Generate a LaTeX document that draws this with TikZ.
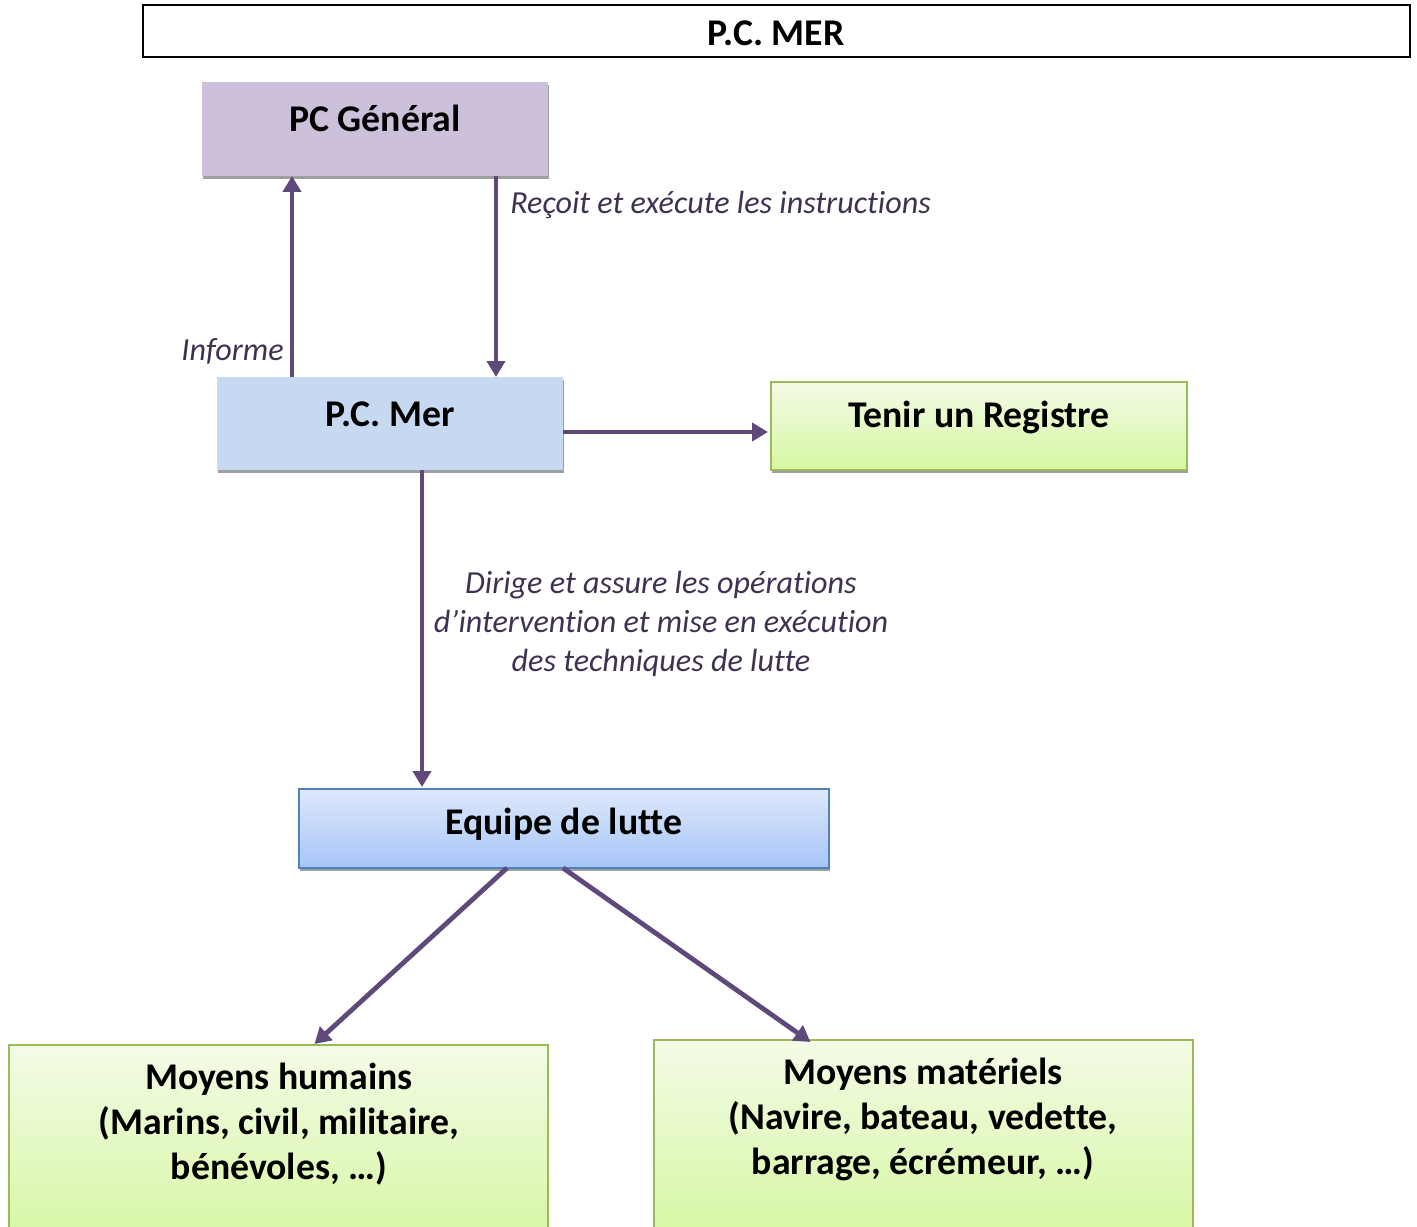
\documentclass[tikz,border=0pt]{standalone}
\usepackage{fontspec}
\setmainfont{Carlito}[Ligatures=NoCommon]
\usetikzlibrary{calc,arrows.meta,shadows}
\definecolor{arrowc}{HTML}{5F497A}
\definecolor{labc}{HTML}{3F3151}
\definecolor{pcgfill}{HTML}{CCC0DA}
\definecolor{pcmfill}{HTML}{C6D9F1}
\definecolor{greentop}{HTML}{F3FBE6}
\definecolor{greenbot}{HTML}{D6F7A2}
\definecolor{greenborder}{HTML}{9BBB59}
\definecolor{bluetop}{HTML}{DEE8FB}
\definecolor{bluebot}{HTML}{A6C5F7}
\definecolor{blueborder}{HTML}{4F81BD}
\begin{document}
\begin{tikzpicture}[x=0.75pt,y=-0.75pt,
  box/.style={rectangle, anchor=north west, inner sep=0pt, outer sep=0pt},
  shad/.style={drop shadow={shadow xshift=0.75pt, shadow yshift=-2.25pt, fill=gray!75, opacity=1}},
  greenbox/.style={box, shad, draw=greenborder, line width=1.5pt, top color=greentop, bottom color=greenbot},
  bluebox/.style={box, shad, draw=blueborder, line width=1.2pt, top color=bluetop, bottom color=bluebot},
  boxtxt/.style={font=\bfseries\fontsize{28.3}{33.75}\selectfont, align=center, inner sep=0pt},
  lab/.style={font=\itshape\fontsize{24.1}{29.25}\selectfont, text=labc, inner sep=0pt},
  arr/.style={draw=arrowc, line width=3.6pt, -{Triangle[width=13.5pt,length=12pt]}}
]
\useasboundingbox (0,0) rectangle (1417,1227);
\clip (0,0) rectangle (1417,1227);

% title
\node[box, draw=black, line width=1.5pt, minimum width=950.25pt, minimum height=39pt] (title) at (143,5) {};
\node[font=\bfseries\fontsize{28.3}{33}\selectfont, inner sep=0pt] (titlet) at (776,33) {P.C. MER};

% boxes
\node[box, shad, fill=pcgfill, minimum width=259.5pt, minimum height=70.5pt] (pcg) at (202,82) {};
\node[boxtxt] (pcgt) at (375,118) {PC Général};

\node[box, shad, fill=pcmfill, minimum width=259.5pt, minimum height=69.75pt] (pcm) at (217,377) {};
\node[boxtxt] (pcmt) at (390,414) {P.C. Mer};

\node[greenbox, minimum width=312pt, minimum height=66pt] (reg) at (771,382) {};
\node[boxtxt] (regt) at (979,417) {Tenir un Registre};

\node[bluebox, minimum width=397.5pt, minimum height=59.25pt] (eq) at (299,789) {};
\node[boxtxt] (eqt) at (564,824) {Equipe de lutte};

\node[greenbox, minimum width=404.25pt, minimum height=150pt] (hum) at (9,1045) {};
\node[boxtxt] (humt) at (279,1124) {Moyens humains\\(Marins, civil, militaire,\\bénévoles, …)};

\node[greenbox, minimum width=404.25pt, minimum height=150pt] (mat) at (654,1040) {};
\node[boxtxt] (matt) at (923,1119) {Moyens matériels\\(Navire, bateau, vedette,\\barrage, écrémeur, …)};

% connectors
\draw[arr] ($(pcm.north)+(-98,0)$) -- ($(pcg.south)+(-83,0)$);
\draw[arr] ($(pcg.south)+(121,0)$) -- ($(pcm.north)+(106,0)$);
\draw[arr] ($(pcm.east)+(0,8.5)$) -- ($(reg.west)+(-3,6)$);
\draw[arr] ($(pcm.south)+(32,0)$) -- ($(eq.north)+(-142,-2)$);
\draw[arr] ($(eq.south)+(-57,0)$) -- ($(hum.north)+(36,-1)$);
\draw[arr] ($(eq.south)+(-1,0)$) -- ($(mat.north)+(-113,2)$);

% labels
\node[lab, anchor=west] (l1) at (510,205) {Reçoit et exécute les instructions};
\node[lab, anchor=east] (l2) at (284,351) {Informe};
\node[lab, align=center] (l3) at (661,624) {Dirige et assure les opérations\\d’intervention et mise en exécution\\des techniques de lutte};
\end{tikzpicture}
\end{document}
